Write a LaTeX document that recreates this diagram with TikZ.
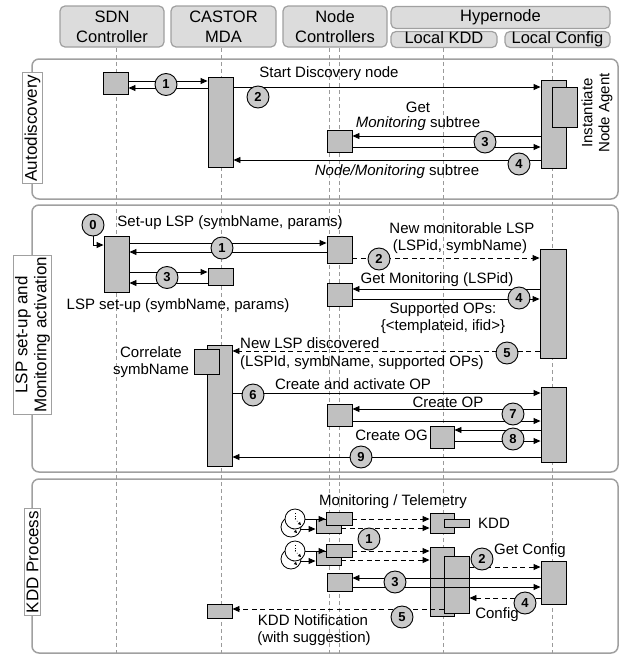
\documentclass[tikz,border=0pt]{standalone}
\usepackage{fontspec}
\setmainfont{Liberation Sans}
\usetikzlibrary{arrows.meta,fit}
\definecolor{actfill}{HTML}{C0C0C0}
\definecolor{numfill}{HTML}{CACACA}
\definecolor{hdrfill}{HTML}{DCDCDC}
\definecolor{frame}{HTML}{A0A0A0}
\definecolor{life}{HTML}{9A9A9A}
\tikzset{
  act/.style={draw=black,fill=actfill,line width=0.9pt,inner sep=0pt},
  num/.style={circle,draw=black,fill=numfill,line width=0.9pt,minimum size=22pt,inner sep=0pt,font=\fontsize{13}{15}\selectfont\bfseries},
  msg/.style={line width=0.9pt,-{Triangle[length=7pt,width=6pt]}},
  dmsg/.style={msg,dash pattern=on 5pt off 3.5pt},
  lifeline/.style={draw=life,line width=0.7pt,dash pattern=on 4pt off 3pt},
  sect/.style={draw=frame,line width=1.5pt,rounded corners=7pt},
  secl/.style={draw=frame,fill=white,line width=1pt,rotate=90,inner sep=2pt,align=center,font=\fontsize{17}{19}\selectfont},
  hdr/.style={draw=frame,fill=hdrfill,line width=1.2pt,rounded corners=5pt,inner sep=0pt,align=center,font=\fontsize{16.5}{20}\selectfont},
  txt/.style={inner sep=0pt,font=\fontsize{15}{17}\selectfont},
  clock/.style={circle,draw=black,fill=white,line width=0.8pt,minimum size=20pt,inner sep=0pt},
}
\newcommand{\abox}[5]{\path (#2,#3) coordinate (#1-nw) (#4,#5) coordinate (#1-se); \node[act,fit=(#1-nw)(#1-se)] (#1) {};}
\newcommand{\clockhands}[1]{\draw[dotted,line width=0.7pt] (#1.center) -- ++(0,-8); \draw[dotted,line width=0.7pt,-{Triangle[length=3pt,width=3pt]}] (#1.center) -- ++(6,6);}
\begin{document}
\begin{tikzpicture}[x=1pt,y=-1pt]
\useasboundingbox (0,0) rectangle (623,656);
% headers
\node[hdr,minimum width=104pt,minimum height=41pt] (hsdn) at (112,26.5) {SDN\\Controller};
\node[hdr,minimum width=105pt,minimum height=41pt] (hcas) at (223.5,26.5) {CASTOR\\MDA};
\node[hdr,minimum width=104pt,minimum height=41pt] (hnc) at (335,26.5) {Node\\Controllers};
\node[hdr,minimum width=219pt,minimum height=22pt] (hhyp) at (500.5,17.5) {Hypernode};
\node[hdr,minimum width=106pt,minimum height=16pt,text height=11pt,text depth=3pt] (hkdd) at (444,39.5) {Local KDD};
\node[hdr,minimum width=105pt,minimum height=16pt,text height=11pt,text depth=3pt] (hcfg) at (557.5,39.5) {Local Config};
% lifelines
\foreach \x/\n in {116/lsdn,221/lcas,329/lnca,339/lncb,443/lkdd,552/lcfg}{
  \coordinate (\n-top) at (\x,48);
  \coordinate (\n-bot) at (\x,656);
  \draw[lifeline] (\n-top) -- (\n-bot);
}
% sections
\draw[sect] (32,59) rectangle (618,199);
\draw[sect] (32,205) rectangle (618,472);
\draw[sect] (32,479) rectangle (618,653);
\node[secl] (sl1) at (32.5,128) {Autodiscovery};
\node[secl] (sl2) at (32.5,335) {LSP set-up and\\Monitoring activation};
\node[secl] (sl3) at (32.5,562) {KDD Process};

% ===== Section 1 =====
\abox{aAsdn}{103}{72}{128}{94}
\abox{aAcas}{208}{77}{233}{167}
\abox{aAcfg}{541}{80}{566}{168}
\abox{aAagt}{552}{87}{577}{127}
\abox{aAnc}{327}{130}{352}{152}
\draw[msg] (aAsdn.east|-0,81) -- (aAcas.west|-0,81);
\draw[msg] (aAcas.west|-0,88) -- (aAsdn.east|-0,88);
\node[num] (nA1) at (166,84.5) {1};
\draw[msg] (aAcas.east|-0,87) -- (aAcfg.west|-0,87);
\node[txt] (tA2) at (329,74) {Start Discovery node};
\node[num] (nA2) at (258,97) {2};
\draw[msg] (aAcfg.west|-0,136) -- (aAnc.east|-0,136);
\draw[msg] (aAnc.east|-0,147) -- (aAcfg.west|-0,147);
\node[num] (nA3) at (485,142) {3};
\node[txt] (tA3a) at (418,107) {Get};
\node[txt] (tA3b) at (418,124) {\textit{Monitoring} subtree};
\draw[msg] (aAcfg.west|-0,160) -- (aAcas.east|-0,160);
\node[num] (nA4) at (519,164) {4};
\node[txt] (tA4) at (397,172) {\textit{Node/Monitoring} subtree};
\node[txt,rotate=90,align=center] (tAgt) at (597,113) {Instantiate\\Node Agent};

% ===== Section 2 =====
\node[num] (nB0) at (93,225) {0};
\abox{aBsdn}{104}{236}{129}{292}
\draw[msg] (nB0.south) |- (aBsdn.west|-0,245);
\abox{aBnc}{327}{236}{352}{263}
\draw[msg] (aBsdn.east|-0,243) -- (aBnc.west|-0,243);
\draw[msg] (aBnc.west|-0,252) -- (aBsdn.east|-0,252);
\node[num] (nB1) at (222,248) {1};
\node[txt] (tB1) at (230,223) {Set-up LSP (symbName, params)};
\abox{aBcas}{208}{268}{233}{285}
\draw[msg] (aBsdn.east|-0,272) -- (aBcas.west|-0,272);
\draw[msg] (aBcas.west|-0,283) -- (aBsdn.east|-0,283);
\node[num] (nB3) at (167,277.5) {3};
\node[txt] (tB3) at (178,306) {LSP set-up (symbName, params)};
\abox{aBcfg}{540}{249}{566}{358}
\draw[dmsg] (aBnc.east|-0,258) -- (aBcfg.west|-0,258);
\node[num] (nB2) at (379,259) {2};
\node[txt] (tB2a) at (462,228) {New monitorable LSP};
\node[txt] (tB2b) at (460,247) {(LSPid, symbName)};
\abox{aBnc2}{327}{283}{352}{306}
\draw[msg] (aBcfg.west|-0,289) -- (aBnc2.east|-0,289);
\draw[msg] (aBnc2.east|-0,299) -- (aBcfg.west|-0,299);
\node[num] (nB4) at (519,298) {4};
\node[txt] (tB4a) at (437,280) {Get Monitoring (LSPid)};
\node[txt] (tB4b) at (443,310) {Supported OPs:};
\node[txt] (tB4c) at (443,327) {\{<templateid, ifid>\}};
\abox{aBcas2}{207}{345}{232}{466}
\abox{aBcor}{194}{349}{219}{374}
\draw[dmsg] (aBcfg.west|-0,351) -- (aBcas2.east|-0,351);
\node[num] (nB5) at (507,353) {5};
\node[txt,anchor=west] (tB5a) at (240,343) {New LSP discovered};
\node[txt,anchor=west] (tB5b) at (240,363) {(LSPId, symbName, supported OPs)};
\node[txt,align=center] (tcor) at (151,362) {Correlate\\symbName};
\abox{aBcfg2}{541}{387}{566}{462}
\draw[msg] (aBcas2.east|-0,393) -- (aBcfg2.west|-0,393);
\node[num] (nB6) at (253,395) {6};
\node[txt] (tB6) at (353,384) {Create and activate OP};
\abox{aBnc3}{327}{404}{352}{426}
\draw[msg] (aBcfg2.west|-0,409) -- (aBnc3.east|-0,409);
\draw[msg] (aBnc3.east|-0,421) -- (aBcfg2.west|-0,421);
\node[num] (nB7) at (513,414) {7};
\node[txt] (tB7) at (448,402) {Create OP};
\abox{aBkdd}{430}{426}{454}{448}
\draw[msg] (aBcfg2.west|-0,430) -- (aBkdd.east|-0,430);
\draw[msg] (aBkdd.east|-0,441) -- (aBcfg2.west|-0,441);
\node[num] (nB8) at (513,439) {8};
\node[txt,anchor=east] (tB8) at (428,435) {Create OG};
\draw[msg] (aBcfg2.west|-0,457) -- (aBcas2.east|-0,457);
\node[num] (nB9) at (361,457) {9};

% ===== Section 3 =====
\node[txt] (tC0) at (393,502) {Monitoring / Telemetry};
% group 1
\node[clock] (kAb) at (291,527) {};
\clockhands{kAb}
\node[clock] (kAf) at (295,519) {};
\clockhands{kAf}
\abox{gAncb}{316}{519}{341}{533}
\abox{gAncf}{326}{512}{352}{525}
\draw[msg] (kAf.east) -- (gAncf.west|-kAf.east);
\draw[msg] (kAb.east|-0,529) -- (gAncb.west|-0,529);
\abox{gAkdd}{430}{513}{454}{533}
\abox{gAkin}{444}{519}{469}{527}
\draw[dmsg] (gAncf.east|-0,519) -- (gAkdd.west|-0,519);
\draw[dmsg] (gAncb.east|-0,528) -- (gAkdd.west|-0,528);
\node[txt] (tKDD) at (494,523) {KDD};
\node[num] (nC1) at (369,539) {1};
% group 2
\node[clock] (kBb) at (291,559) {};
\clockhands{kBb}
\node[clock] (kBf) at (295,551) {};
\clockhands{kBf}
\abox{gBncb}{316}{551}{341}{565}
\abox{gBncf}{326}{544}{352}{557}
\draw[msg] (kBf.east) -- (gBncf.west|-kBf.east);
\draw[msg] (kBb.east|-0,561) -- (gBncb.west|-0,561);
\abox{gBkdd}{430}{547}{454}{616}
\abox{gBkdf}{444}{556}{469}{613}
\draw[dmsg] (gBncf.east|-0,551) -- (gBkdd.west|-0,551);
\draw[dmsg] (gBncb.east|-0,560) -- (gBkdd.west|-0,560);
\abox{aCcfg}{541}{561}{566}{604}
\draw[dmsg] (gBkdf.east|-0,567) -- (aCcfg.west|-0,567);
\node[num] (nC2) at (482,559) {2};
\node[txt] (tC2) at (530,551) {Get Config};
\abox{aCnc}{327}{573}{352}{591}
\draw[msg] (aCcfg.west|-0,578) -- (aCnc.east|-0,578);
\draw[msg] (aCnc.east|-0,587) -- (aCcfg.west|-0,587);
\node[num] (nC3) at (395,582) {3};
\draw[dmsg] (aCcfg.west|-0,598) -- (gBkdf.east|-0,598);
\node[num] (nC4) at (525,603) {4};
\node[txt] (tC4) at (497,615) {Config};
\abox{aCcas}{207}{604}{232}{618}
\draw[dmsg] (gBkdf.west|-0,609) -- (aCcas.east|-0,609);
\node[num] (nC5) at (402,617) {5};
\node[txt] (tC5a) at (313,620) {KDD Notification};
\node[txt] (tC5b) at (314,639) {(with suggestion)};
\end{tikzpicture}
\end{document}
